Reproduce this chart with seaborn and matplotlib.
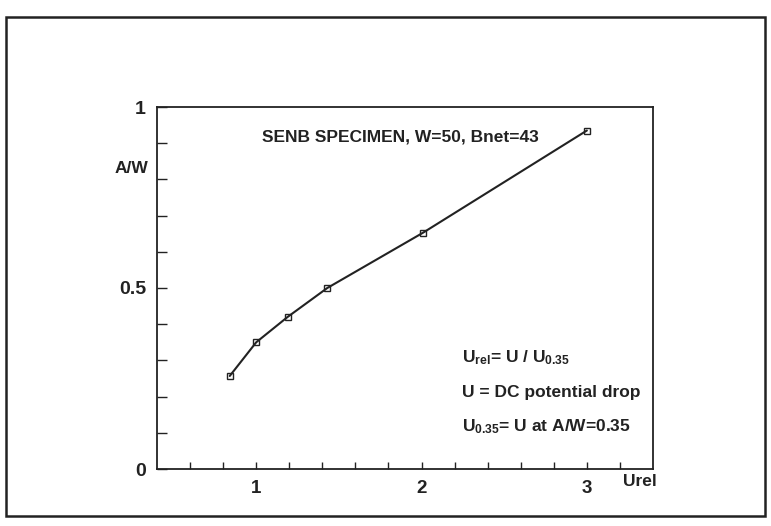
import numpy as np
import seaborn as sns
import matplotlib.pyplot as plt
from matplotlib.patches import Rectangle
from matplotlib.ticker import FixedLocator, NullFormatter

# Data
u_rel = [0.84, 1.0, 1.19, 1.43, 2.01, 3.0]
a_over_w = [0.257, 0.35, 0.42, 0.50, 0.653, 0.935]

x_major = [1, 2, 3]
x_minor = [0.6, 0.8, 1.2, 1.4, 1.6, 1.8, 2.2, 2.4, 2.6, 2.8, 3.2]
y_major = [0, 0.5, 1]
y_minor = [0.1, 0.2, 0.3, 0.4, 0.6, 0.7, 0.8, 0.9]
x_labels = ['1', '2', '3']
y_labels = ['0', '0.5', '1']

sns.set_style("white")
plt.rcParams['font.family'] = ['Liberation Sans', 'DejaVu Sans']
plt.rcParams['font.weight'] = 'bold'
plt.rcParams['mathtext.default'] = 'regular'

ink = '#222222'

fig = plt.figure(figsize=(7.71, 5.26), dpi=100)
ax = fig.add_axes([157 / 771, 1 - 469 / 526, 496 / 771, 362 / 526])

sns.lineplot(x=u_rel, y=a_over_w, ax=ax, color=ink, linewidth=1.5,
             marker='s', markersize=5, markerfacecolor='none',
             markeredgecolor=ink, markeredgewidth=1.0)

ax.set_xlim(0.4, 3.4)
ax.set_ylim(0, 1)

ax.xaxis.set_major_locator(FixedLocator(x_major))
ax.xaxis.set_minor_locator(FixedLocator(x_minor))
ax.yaxis.set_major_locator(FixedLocator(y_major))
ax.yaxis.set_minor_locator(FixedLocator(y_minor))
ax.set_xticklabels(x_labels)
ax.set_yticklabels(y_labels)
ax.xaxis.set_minor_formatter(NullFormatter())
ax.yaxis.set_minor_formatter(NullFormatter())

ax.tick_params(axis='both', which='both', direction='in', color=ink,
               width=1.0, labelcolor=ink, bottom=True, left=True,
               top=False, right=False)
ax.tick_params(axis='x', which='both', length=5, pad=8, labelsize=13.5)
ax.tick_params(axis='y', which='both', length=7, pad=8, labelsize=14)

for s in ax.spines.values():
    s.set_visible(True)
    s.set_color(ink)
    s.set_linewidth(1.3)

ax.set_xlabel('')
ax.set_ylabel('')

ax.text(0.49, 0.917, 'SENB SPECIMEN, W=50, Bnet=43', transform=ax.transAxes,
        ha='center', va='center', fontsize=12.5, color=ink)
ax.text(-0.052, 0.83, 'A/W', transform=ax.transAxes,
        ha='center', va='center', fontsize=12.5, color=ink)
ax.text(0.974, -0.035, 'Urel', transform=ax.transAxes,
        ha='center', va='center', fontsize=12.5, color=ink)

ax.text(0.615, 0.307, r'U$_{rel}$= U / U$_{0.35}$', transform=ax.transAxes,
        ha='left', va='center', fontsize=12.5, color=ink)
ax.text(0.615, 0.21, 'U = DC potential drop', transform=ax.transAxes,
        ha='left', va='center', fontsize=12.5, color=ink)
ax.text(0.615, 0.116, r'U$_{0.35}$= U at A/W=0.35', transform=ax.transAxes,
        ha='left', va='center', fontsize=12.5, color=ink)

# outer frame of the scanned page
fig.add_artist(Rectangle((6 / 771, 1 - 516 / 526), 759 / 771, 499 / 526,
                         transform=fig.transFigure, fill=False,
                         edgecolor=ink, linewidth=1.8))

fig.savefig('out.png', dpi=100)
